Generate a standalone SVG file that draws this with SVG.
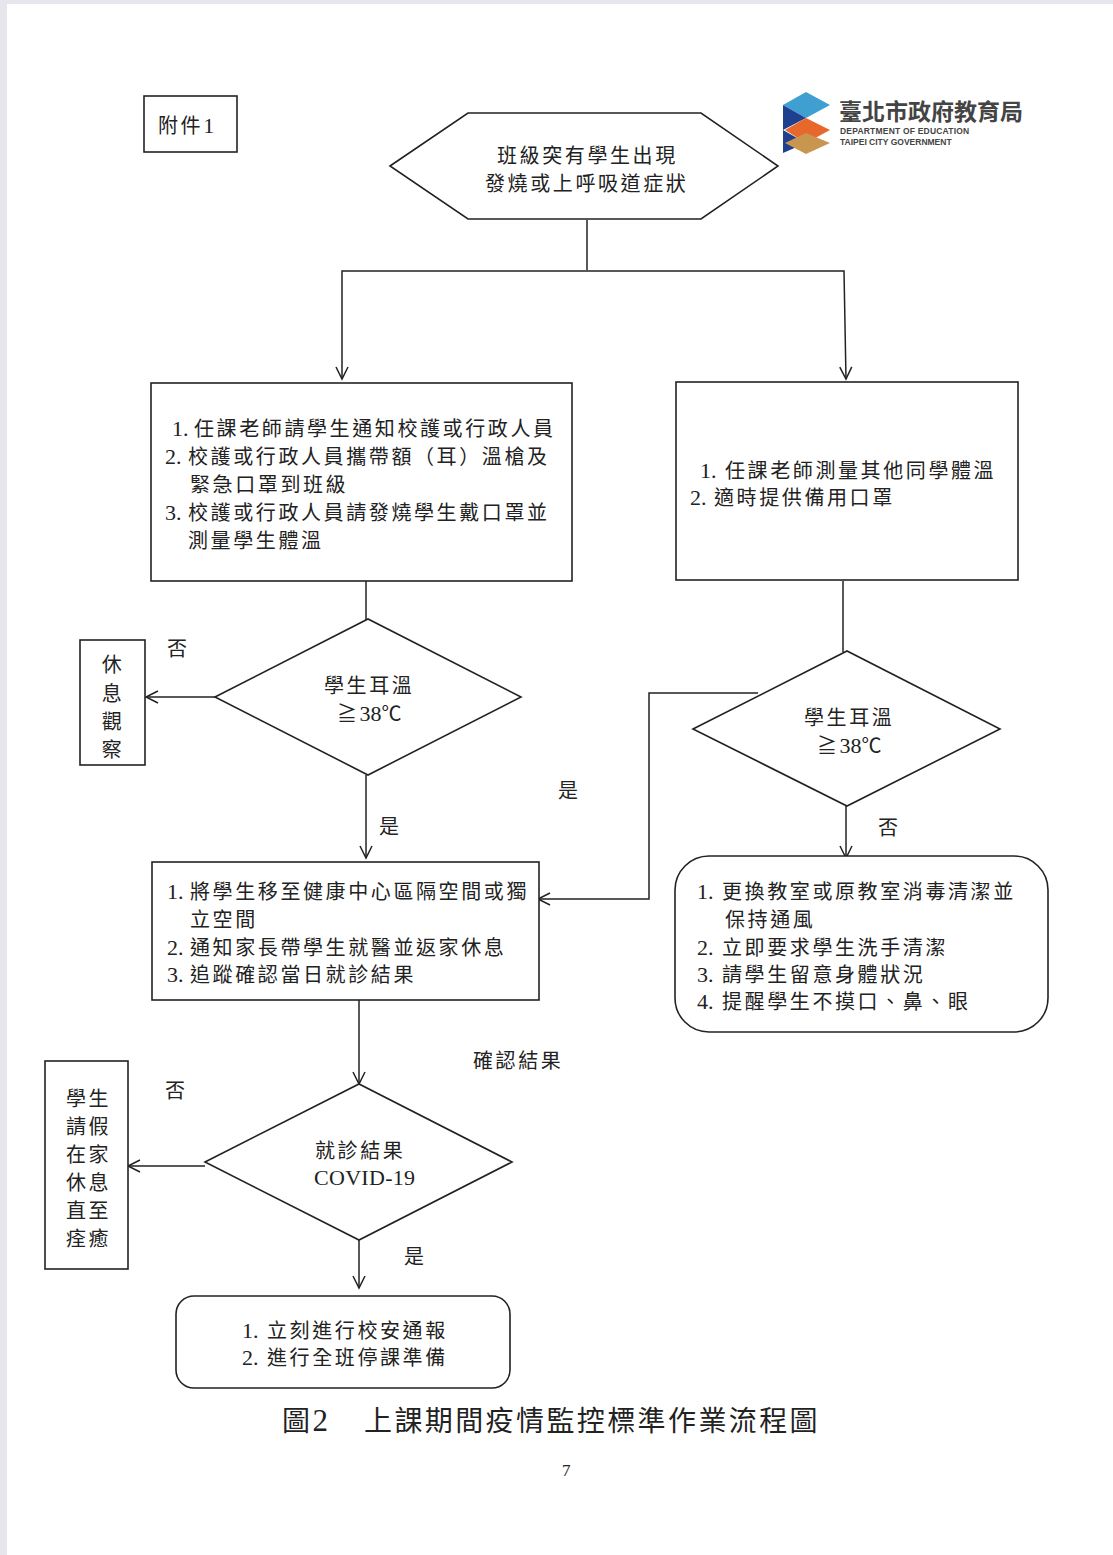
<svg xmlns="http://www.w3.org/2000/svg" width="1113" height="1555" viewBox="0 0 1113 1555">
<style>
text{font-family:"Noto Sans CJK TC","Liberation Serif",serif;font-size:20px;fill:#222;letter-spacing:2.6px}
.n{font-family:"Liberation Serif",serif;font-size:22px;letter-spacing:0}
.s{fill:#fff;stroke:#222;stroke-width:1.6}
.c{fill:none;stroke:#222;stroke-width:1.5;marker-end:url(#a)}
.p{fill:none;stroke:#222;stroke-width:1.5}
.m{text-anchor:middle}
</style>
<defs><marker id="a" markerUnits="userSpaceOnUse" markerWidth="16" markerHeight="16" refX="14" refY="8" orient="auto"><path d="M2 2L14 8L2 14" fill="none" stroke="#222" stroke-width="1.5"/></marker></defs>
<rect width="1113" height="1555" fill="#e6e6ec"/>
<rect x="7" y="4" width="1106" height="1551" fill="#fff"/>
<g id="connectors">
<path class="p" d="M587 220V270"/>
<path class="c" d="M587 271H342V379"/>
<path class="c" d="M587 271H844L846 379"/>
<path class="p" d="M366 581V620"/>
<path class="c" d="M215 697H146"/>
<path class="c" d="M366 775V858"/>
<path class="p" d="M843 581V652"/>
<path class="c" d="M758 693H649V899H538"/>
<path class="c" d="M846 806V858"/>
<path class="c" d="M359 1000V1084"/>
<path class="c" d="M205 1166H128"/>
<path class="c" d="M359 1240V1288"/>
</g>
<g id="annex"><rect class="s" x="144" y="96" width="93" height="56"/><text x="158" y="133">附件<tspan class="n">1</tspan></text></g>
<g id="logo">
<polygon points="783,105 806,92 830,105 806,118" fill="#3f9fd0"/>
<polygon points="783,105 806,118 783,130" fill="#1f3f8f"/>
<polygon points="785,130 806,118 830,130 806,143" fill="#e8672a"/>
<polygon points="783,130 806,143 783,153" fill="#1f3f8f"/>
<polygon points="785,143 806,133 830,143 806,154" fill="#c99650" />
<text x="839" y="120" style="font-size:23px;letter-spacing:0;fill:#444;font-weight:700">臺北市政府教育局</text>
<text x="840" y="134" style="font-family:'Liberation Sans',sans-serif;font-size:8.5px;letter-spacing:.2px;fill:#444;font-weight:700">DEPARTMENT OF  EDUCATION</text>
<text x="840" y="145" style="font-family:'Liberation Sans',sans-serif;font-size:8.5px;letter-spacing:0;fill:#444;font-weight:700">TAIPEI CITY GOVERNMENT</text>
</g>
<g id="start"><polygon class="s" points="390,166 468,113 701,113 778,166 701,219 468,219"/>
<text x="497" y="163">班級突有學生出現</text><text x="485" y="191">發燒或上呼吸道症狀</text></g>
<g id="left-steps"><rect class="s" x="151" y="383" width="421" height="198"/>
<text x="172" y="436"><tspan class="n">1.</tspan><tspan x="194">任課老師請學生通知校護或行政人員</tspan></text>
<text x="165" y="464"><tspan class="n">2.</tspan><tspan x="188">校護或行政人員攜帶額（耳）溫槍及</tspan></text>
<text x="190" y="492">緊急口罩到班級</text>
<text x="165" y="520"><tspan class="n">3.</tspan><tspan x="188">校護或行政人員請發燒學生戴口罩並</tspan></text>
<text x="188" y="548">測量學生體溫</text></g>
<g id="right-steps"><rect class="s" x="676" y="382" width="342" height="198"/>
<text x="700" y="478"><tspan class="n">1.</tspan><tspan x="725">任課老師測量其他同學體溫</tspan></text>
<text x="690" y="505"><tspan class="n">2.</tspan><tspan x="714">適時提供備用口罩</tspan></text></g>
<g id="left-decision"><polygon class="s" points="215,697 368,619 521,697 368,775"/>
<text x="324" y="693">學生耳溫</text><text x="337" y="721">≧<tspan class="n">38</tspan>℃</text></g>
<g id="rest"><rect class="s" x="80" y="640" width="65" height="125"/>
<text class="m" x="113" y="672">休</text><text class="m" x="113" y="701">息</text><text class="m" x="113" y="729">觀</text><text class="m" x="113" y="757">察</text></g>
<g id="right-decision"><polygon class="s" points="693,729 847,651 1000,729 847,806"/>
<text x="804" y="725">學生耳溫</text><text x="817" y="753">≧<tspan class="n">38</tspan>℃</text></g>
<g id="labels">
<text x="167" y="656">否</text><text x="558" y="798">是</text><text x="379" y="834">是</text><text x="878" y="835">否</text>
<text x="473" y="1068">確認結果</text><text x="165" y="1098">否</text><text x="404" y="1264">是</text></g>
<g id="isolate"><rect class="s" x="152" y="862" width="387" height="138"/>
<text x="167" y="899"><tspan class="n">1.</tspan><tspan x="190">將學生移至健康中心區隔空間或獨</tspan></text>
<text x="190" y="927">立空間</text>
<text x="167" y="955"><tspan class="n">2.</tspan><tspan x="190">通知家長帶學生就醫並返家休息</tspan></text>
<text x="167" y="982"><tspan class="n">3.</tspan><tspan x="190">追蹤確認當日就診結果</tspan></text></g>
<g id="classroom"><rect class="s" x="675" y="856" width="373" height="176" rx="34"/>
<text x="697" y="899"><tspan class="n">1.</tspan><tspan x="722">更換教室或原教室消毒清潔並</tspan></text>
<text x="725" y="927">保持通風</text>
<text x="697" y="955"><tspan class="n">2.</tspan><tspan x="722">立即要求學生洗手清潔</tspan></text>
<text x="697" y="982"><tspan class="n">3.</tspan><tspan x="722">請學生留意身體狀況</tspan></text>
<text x="697" y="1009"><tspan class="n">4.</tspan><tspan x="722">提醒學生不摸口、鼻、眼</tspan></text></g>
<g id="covid-decision"><polygon class="s" points="205,1162 359,1084 512,1162 359,1240"/>
<text x="315" y="1158">就診結果</text><text class="n" x="314" y="1185" style="letter-spacing:.3px">COVID-19</text></g>
<g id="leave"><rect class="s" x="45" y="1061" width="83" height="208"/>
<text x="66" y="1106">學生</text><text x="66" y="1134">請假</text><text x="66" y="1162">在家</text><text x="66" y="1190">休息</text><text x="66" y="1218">直至</text><text x="66" y="1246">痊癒</text></g>
<g id="report"><rect class="s" x="176" y="1296" width="334" height="92" rx="18"/>
<text x="242" y="1338"><tspan class="n">1.</tspan><tspan x="267">立刻進行校安通報</tspan></text>
<text x="242" y="1365"><tspan class="n">2.</tspan><tspan x="267">進行全班停課準備</tspan></text></g>
<text x="282" y="1431" style="font-size:28px;letter-spacing:2.4px">圖<tspan class="n" style="font-size:31px">2</tspan><tspan x="364">上課期間疫情監控標準作業流程圖</tspan></text>
<text class="n" x="562" y="1476" style="font-size:17px">7</text>
</svg>
